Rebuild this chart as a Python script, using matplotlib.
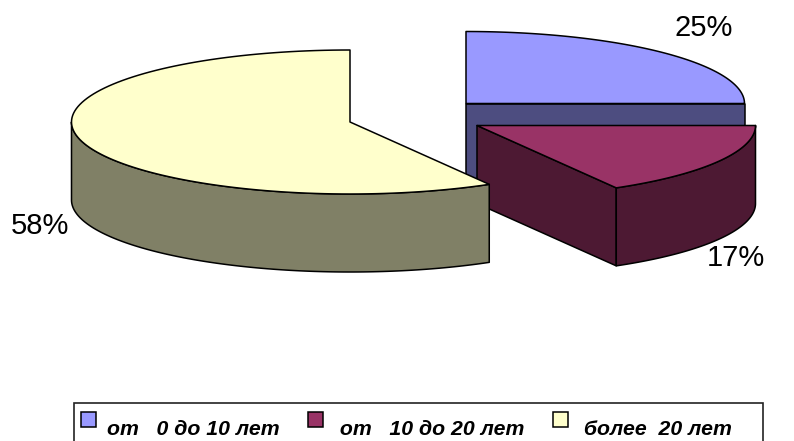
import numpy as np
import matplotlib
matplotlib.use("Agg")
import matplotlib.pyplot as plt
from matplotlib.patches import Polygon, Rectangle
from matplotlib.legend_handler import HandlerPatch

plt.rcParams["font.family"] = ["Liberation Sans", "DejaVu Sans"]

# data
names = ["от   0 до 10 лет", " от   10 до 20 лет", " более  20 лет"]
values = [6, 4, 14]
percent_labels = ["25%", "17%", "58%"]

# styles
top_colors = ["#9999FF", "#993366", "#FFFFCC"]
side_colors = ["#4D4D80", "#4D1933", "#808066"]
centers = [(466, 103.5), (477, 125.5), (350, 122)]  # exploded slice centres, px
label_pos = [(704, 28.5), (736, 258), (39.5, 226)]
rx, ry = 278.5, 72
depth = 78


def rim(a0, a1, cx, cy, dy=0):
    # angles clockwise from 12 o'clock, degrees
    t = np.radians(np.linspace(a0, a1, 120))
    return np.column_stack([cx + rx * np.sin(t), cy + dy - ry * np.cos(t)])


fig = plt.figure(figsize=(7.94, 4.41), dpi=100)
ax = fig.add_axes([0, 0, 1, 1])
ax.set_xlim(0, 794)
ax.set_ylim(441, 0)
ax.axis("off")

fractions = np.array(values) / sum(values)
ends = np.cumsum(fractions) * 360
starts = ends - fractions * 360

for i in range(len(values)):
    a0, a1 = starts[i], ends[i]
    cx, cy = centers[i]
    z = 2 + i
    style = dict(edgecolor="black", linewidth=1.1, joinstyle="round", zorder=z)

    # cut face at the end of the slice, only when it looks towards us
    if a1 < 180:
        p = rim(a1, a1, cx, cy)[0]
        ax.add_patch(Polygon([(cx, cy), tuple(p), (p[0], p[1] + depth), (cx, cy + depth)],
                             facecolor=side_colors[i], **style))

    # outer wall, front half of the ellipse only
    w0, w1 = max(a0, 90), min(a1, 270)
    if w1 > w0:
        upper = rim(w0, w1, cx, cy)
        lower = rim(w0, w1, cx, cy, depth)[::-1]
        ax.add_patch(Polygon(np.vstack([upper, lower]), facecolor=side_colors[i], **style))

    # top
    ax.add_patch(Polygon(np.vstack([[(cx, cy)], rim(a0, a1, cx, cy)]),
                         facecolor=top_colors[i], **style))

    ax.text(label_pos[i][0], label_pos[i][1], percent_labels[i], fontsize=21,
            ha="center", va="center", color="black", zorder=10)

# legend box runs off the bottom of the picture
ax.add_patch(Rectangle((74, 403), 689, 60, facecolor="white", edgecolor="#222222",
                       linewidth=1.2, zorder=8))


def raised_box(legend, orig_handle, xdescent, ydescent, width, height, fontsize):
    return Rectangle((0, 5.8), 10.8, 10.8)


handles = [Rectangle((0, 0), 1, 1, facecolor=c, edgecolor="black", linewidth=1.1)
           for c in top_colors]
leg = ax.legend(handles, names, ncol=3, loc="upper left",
                bbox_to_anchor=(81 / 794, 1 - 420 / 441),
                borderaxespad=0, borderpad=0, frameon=False,
                prop=dict(size=15.3, weight="bold", style="italic"),
                handler_map={Rectangle: HandlerPatch(patch_func=raised_box)},
                handlelength=0.706, handleheight=0.7,
                handletextpad=0.5, columnspacing=1.35)
leg.set_zorder(9)

fig.savefig("out.png", dpi=100)
